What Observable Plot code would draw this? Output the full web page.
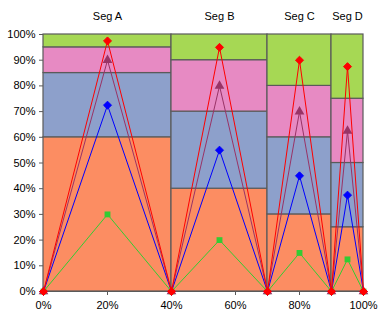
<!DOCTYPE html>
<html><head><meta charset="utf-8">
<script src="https://cdn.jsdelivr.net/npm/d3@7"></script>
<script src="https://cdn.jsdelivr.net/npm/@observablehq/plot@0.6"></script>
<style>body{margin:0;background:#fff}</style>
</head><body><div id="chart"></div>
<script>
const segments = ["Seg A","Seg B","Seg C","Seg D"];
const widths = [40,30,20,10];
const layerColors = ["#fc8d62","#8da0cb","#e78ac3","#a6d854"];
const layer1 = [60,40,30,25];
const layer2 = [25,30,30,25];
const layer3 = [10,20,20,25];
const layer4 = [5,10,20,25];
const lineGreen = [30,20,15,12.5];
const lineBlue = [72.5,55,45,37.5];
const linePurple = [90,80,70,62.5];
const lineRed = [97.5,95,90,87.5];
const xTicks = [0,20,40,60,80,100];
const yTicks = [0,10,20,30,40,50,60,70,80,90,100];

const layers = [layer1,layer2,layer3,layer4];
let starts = [], x0 = 0;
widths.forEach(w => {starts.push(x0); x0 += w;});
const cells = [];
segments.forEach((s,i) => {
  let y0 = 0;
  layers.forEach((L,j) => {
    cells.push({seg:s, x1:starts[i], x2:starts[i]+widths[i], y1:y0, y2:y0+L[i], color:layerColors[j]});
    y0 += L[i];
  });
});
const segLabels = segments.map((s,i)=>({seg:s, x:starts[i]+widths[i]/2, y:100}));

function zig(vals, name){
  const pts = [];
  vals.forEach((v,i)=>{
    if(i===0) pts.push({x:starts[i], y:0, s:name});
    pts.push({x:starts[i]+widths[i]/2, y:v, s:name});
    pts.push({x:starts[i]+widths[i], y:0, s:name});
  });
  return pts;
}
const gPts = zig(lineGreen,"g"), bPts = zig(lineBlue,"b"), pPts = zig(linePurple,"p"), rPts = zig(lineRed,"r");

const chart = Plot.plot({
  width: 384, height: 323,
  marginLeft: 43, marginRight: 21, marginTop: 34, marginBottom: 32,
  style: {fontFamily: "Liberation Sans, Arial, sans-serif", fontSize: "11px", color: "#000", background: "#fff"},
  x: {domain:[0,100], label: null},
  y: {domain:[0,100], label: null},
  marks: [
    Plot.rect(cells, {x1:"x1", x2:"x2", y1:"y1", y2:"y2", fill:"color", stroke:"#5a5a5a", strokeWidth:1.2}),
    Plot.axisX({ticks: xTicks, tickFormat: d => d + "%", tickSize: 4, tickPadding: 6, stroke:"#5a5a5a", fontSize: 11, label: null}),
    Plot.axisY({ticks: yTicks, tickFormat: d => d + "%", tickSize: 4, tickPadding: 4, stroke:"#5a5a5a", fontSize: 11, label: null}),
    Plot.ruleY([0], {stroke:"#5a5a5a"}),
    Plot.text(segLabels, {x:"x", y:"y", text:"seg", dy:-18, fontSize: 11, fill:"#000"}),
    Plot.line(gPts, {x:"x", y:"y", stroke:"#33cc33", strokeWidth:1}),
    Plot.dot(gPts, {x:"x", y:"y", symbol:"square", r:3.3, fill:"#33cc33", stroke:"none"}),
    Plot.line(bPts, {x:"x", y:"y", stroke:"#0000ff", strokeWidth:1}),
    Plot.dot(bPts, {x:"x", y:"y", symbol:"diamond2", r:3.6, fill:"#0000ff", stroke:"#0000ff", strokeWidth:1}),
    Plot.line(pPts, {x:"x", y:"y", stroke:"#993366", strokeWidth:1}),
    Plot.dot(pPts, {x:"x", y:"y", symbol:"triangle", r:3.6, fill:"#993366", stroke:"none"}),
    Plot.line(rPts, {x:"x", y:"y", stroke:"#ff0000", strokeWidth:1}),
    Plot.dot(rPts, {x:"x", y:"y", symbol:"diamond2", r:3.6, fill:"#ff0000", stroke:"#ff0000", strokeWidth:1})
  ]
});
document.getElementById("chart").appendChild(chart);
</script>
</body></html>
